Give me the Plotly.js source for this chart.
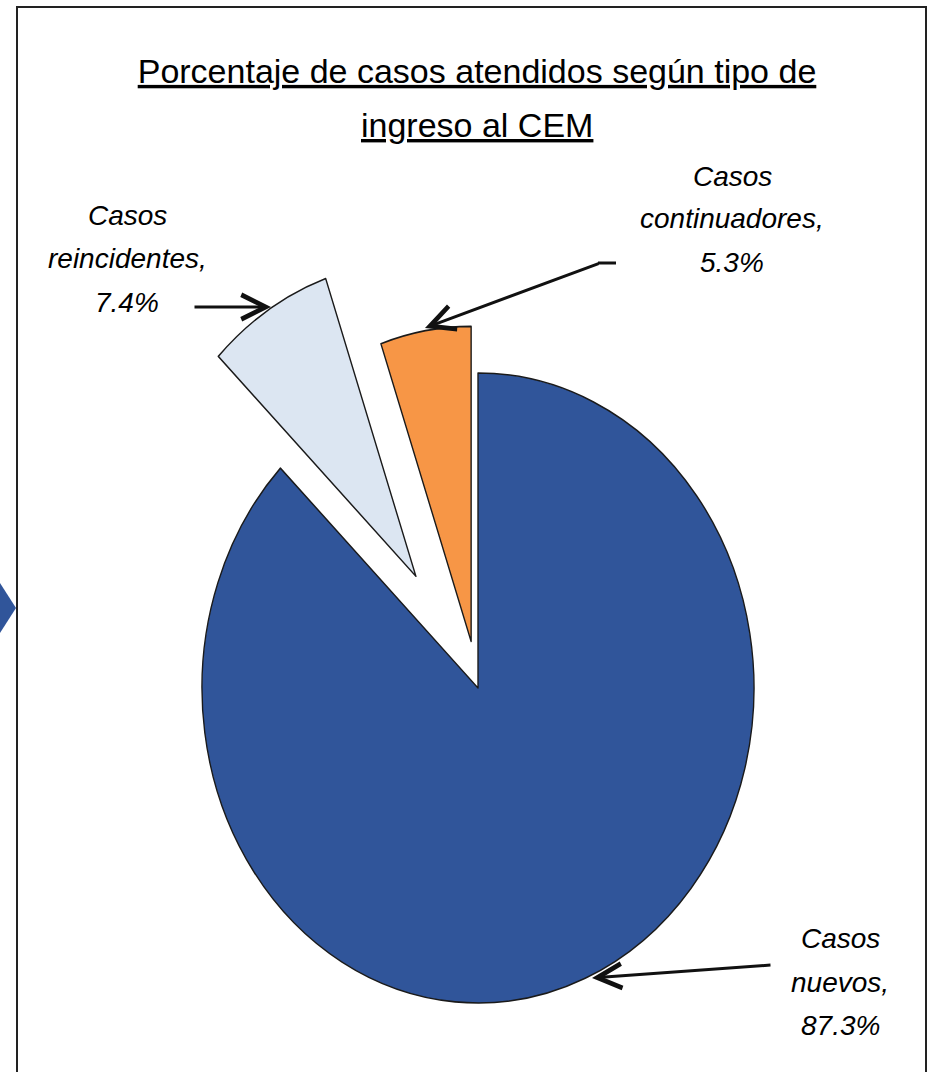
<!DOCTYPE html>
<html>
<head>
<meta charset="utf-8">
<script src="https://cdn.plot.ly/plotly-3.0.1.min.js"></script>
<style>html,body{margin:0;padding:0;background:#fff;overflow:hidden}</style>
</head>
<body>
<div id="chart" style="width:928px;height:1072px"></div>
<script>
// ---- data ----
const categories = ["Casos nuevos", "Casos reincidentes", "Casos continuadores"];
const percentages = [87.3, 7.4, 5.3];
const chartTitle = ["Porcentaje de casos atendidos según tipo de", "ingreso al CEM"];

// ---- styles ----
const sliceColors = ["#30559A", "#DCE6F2", "#F79646"];
const slicePull = [0, 0.42, 0.15];
const W = 928, H = 1072;
const RX = 276, RY = 315;            // final ellipse radii (px)
const CX = 478, CY = 688;            // pie centre (px)
const R0 = 240, MAXPULL = 0.42;      // radius Plotly draws before stretching
const labelFont = {family: "Liberation Sans, Arial, sans-serif", size: 28, color: "#000"};
const titleFont = {family: "Liberation Sans, Arial, sans-serif", size: 34, color: "#000"};
const labelPlace = [
  {x: 840, base: [948, 992, 1035]},
  {x: 127, base: [225, 269, 312]},
  {x: 732, base: [186, 229, 272]}
];
const arrows = [
  {head: [592, 978], tail: [772, 965]},
  {head: [271, 307], tail: [193, 307]},
  {head: [425, 328], tail: [600, 263]}
];

const px = x => x / W;
const py = y => 1 - y / H;

const half = R0 * (1 + MAXPULL);
const trace = {
  type: "pie",
  labels: categories,
  values: percentages,
  sort: false,
  direction: "clockwise",
  rotation: 0,
  pull: slicePull,
  marker: {colors: sliceColors, line: {color: "#1a1a1a", width: 1.2}},
  textinfo: "none",
  hoverinfo: "skip",
  showlegend: false,
  domain: {x: [px(CX - half), px(CX + half)], y: [py(CY + half), py(CY - half)]}
};

const annotations = [
  {xref: "paper", yref: "paper", x: px(477), y: py(137 - 12),
   xanchor: "center", yanchor: "middle", showarrow: false,
   text: "<u>" + chartTitle[1] + "</u>", font: titleFont}
];
categories.forEach((c, i) => {
  const words = c.split(" ");
  const lines = [words[0], words.slice(1).join(" ") + ",", percentages[i].toFixed(1) + "%"];
  lines.forEach((t, j) => {
    annotations.push({
      xref: "paper", yref: "paper",
      x: px(labelPlace[i].x), y: py(labelPlace[i].base[j] - 10),
      xanchor: "center", yanchor: "middle",
      text: "<i>" + t + "</i>", showarrow: false, font: labelFont
    });
  });
  const a = arrows[i];
  annotations.push({
    xref: "paper", yref: "paper",
    x: px(a.head[0]), y: py(a.head[1]),
    ax: a.tail[0] - a.head[0], ay: a.tail[1] - a.head[1],
    text: "", showarrow: true, arrowhead: 5, arrowsize: 1.6, arrowwidth: 3,
    arrowcolor: "#111", standoff: 0
  });
});

const shapes = [
  {type: "rect", xref: "paper", yref: "paper", x0: px(17), x1: px(926), y0: py(7), y1: py(1120),
   line: {color: "#222", width: 2}, fillcolor: "rgba(0,0,0,0)"},
  {type: "line", xref: "paper", yref: "paper", x0: px(598), x1: px(616), y0: py(263), y1: py(263),
   line: {color: "#111", width: 3}},
  {type: "path", xref: "paper", yref: "paper",
   path: `M${px(16)},${py(608)} L${px(-2)},${py(580)} L${px(-20)},${py(608)} L${px(-2)},${py(636)} Z`,
   fillcolor: "#30559A", line: {width: 0}}
];

const layout = {
  width: W, height: H,
  margin: {l: 0, r: 0, t: 0, b: 0},
  paper_bgcolor: "#fff",
  title: {
    text: "<u>" + chartTitle[0] + "</u>",
    font: titleFont,
    x: px(477), xanchor: "center", xref: "container",
    y: py(83 - 12), yanchor: "middle", yref: "container"
  },
  annotations: annotations,
  shapes: shapes
};

Plotly.newPlot("chart", [trace], layout, {staticPlot: true}).then(gd => {
  const cd0 = gd.calcdata && gd.calcdata[0] && gd.calcdata[0][0];
  const r = (cd0 && cd0.r) || R0;
  const cx = (cd0 && cd0.cx) || CX;
  const cy = (cd0 && cd0.cy) || CY;
  const layer = gd.querySelector(".pielayer");
  if (layer) {
    layer.setAttribute("transform",
      `translate(${cx},${cy}) scale(${RX / r},${RY / r}) translate(${-cx},${-cy})`);
  }
});
</script>
</body>
</html>
